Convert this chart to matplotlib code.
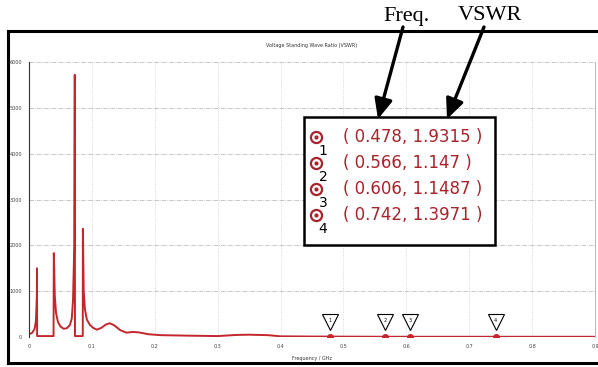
import matplotlib
matplotlib.use("Agg")
from matplotlib import pyplot as plt
from matplotlib.lines import Line2D
from matplotlib.patches import Rectangle, FancyArrowPatch
from matplotlib.transforms import offset_copy

# VSWR sweep (frequency in GHz)
freq = [0.000, 0.005, 0.009, 0.011, 0.0125, 0.0127, 0.0129, 0.039, 0.0395, 0.041,
        0.043, 0.046, 0.050, 0.055, 0.060, 0.065, 0.068, 0.070, 0.072, 0.0728,
        0.0731, 0.0855, 0.0857, 0.087, 0.089, 0.092, 0.097, 0.102, 0.108, 0.115,
        0.122, 0.128, 0.135, 0.145, 0.155, 0.165, 0.175, 0.19, 0.21, 0.25,
        0.30, 0.33, 0.35, 0.38, 0.40, 0.45, 0.50, 0.55, 0.60, 0.65,
        0.70, 0.75, 0.80, 0.85, 0.90]
vswr = [60, 90, 180, 350, 900, 1500, 20, 20, 1830, 900,
        520, 330, 230, 180, 190, 260, 400, 800, 2000, 5720,
        20, 20, 2360, 1000, 600, 380, 260, 200, 160, 200,
        270, 300, 260, 150, 95, 110, 100, 60, 40, 30,
        20, 45, 50, 40, 15, 10, 8, 6, 5, 5,
        5, 5, 5, 5, 5]

# marker readout
mk_freq = [0.478, 0.566, 0.606, 0.742]
mk_vswr = [1.9315, 1.147, 1.1487, 1.3971]
mk_ids = ["1", "2", "3", "4"]

x_ticks = [0, 0.1, 0.2, 0.3, 0.4, 0.5, 0.6, 0.7, 0.8, 0.9]
x_labels = ["0", "0.1", "0.2", "0.3", "0.4", "0.5", "0.6", "0.7", "0.8", "0.9"]
y_ticks = [0, 1000, 2000, 3000, 4000, 5000, 6000]

W, H = 598, 367
red = "#c3262d"
dark_red = "#a8232b"


def px(x, y):
    return x / W, 1 - y / H


fig = plt.figure(figsize=(W / 100, H / 100), dpi=100)
ax = fig.add_axes([29 / W, 30 / H, (595 - 29) / W, (337 - 62) / H])

ax.plot(freq, vswr, color=red, lw=1.4)
ax.set_xlim(0, 0.9)
ax.set_ylim(0, 6000)
ax.set_xticks(x_ticks)
ax.set_xticklabels(x_labels)
ax.set_yticks(y_ticks)
ax.tick_params(length=0, labelsize=3.5, colors="#444444", pad=5)
ax.grid(axis="x", color="#cccccc", ls=":", lw=0.6)
ax.grid(axis="y", color="#b0b0b0", ls="-.", lw=0.5)
for side in ["top", "bottom"]:
    ax.spines[side].set_visible(False)
ax.spines["left"].set_color("#333333")
ax.spines["left"].set_linewidth(0.8)
ax.spines["right"].set_color("#aaaaaa")
ax.spines["right"].set_linewidth(0.6)
ax.set_title("Voltage Standing Wave Ratio (VSWR)", fontsize=3.5, pad=11, color="#333333")
ax.set_xlabel("Frequency / GHz", fontsize=3.5, labelpad=5, color="#333333")

# markers on the trace, with numbered flags above them
ax.plot(mk_freq, mk_vswr, "o", color=red, ms=4, zorder=4)
flag_tr = offset_copy(ax.transData, fig=fig, x=0, y=11, units="points")
for f, v, i in zip(mk_freq, mk_vswr, mk_ids):
    ax.plot(f, v, marker="v", ms=11, mfc="white", mec="black", mew=0.8,
            transform=flag_tr, zorder=5)
    ax.text(f, v, i, transform=offset_copy(ax.transData, fig=fig, x=0, y=12, units="points"),
            fontsize=3.5, ha="center", va="center", zorder=6)

# outer frame
frame = dict(color="black", lw=2.2, transform=fig.transFigure)
fig.add_artist(Line2D([px(8, 31)[0], 1], [px(8, 31)[1]] * 2, **frame))
fig.add_artist(Line2D([px(8, 31)[0]] * 2, [px(8, 31)[1], px(8, 363)[1]], **frame))
fig.add_artist(Line2D([px(8, 363)[0], 1], [px(8, 363)[1]] * 2, **frame))

# readout box
bx0, by0 = px(304, 245)
bx1, by1 = px(495, 117)
fig.add_artist(Rectangle((bx0, by0), bx1 - bx0, by1 - by0, transform=fig.transFigure,
                         fill=True, facecolor="white", edgecolor="black", lw=1.8, zorder=10))
for k, (f, v, i) in enumerate(zip(mk_freq, mk_vswr, mk_ids)):
    row_y = 137 + k * 26
    cx, cy = px(316, row_y)
    fig.add_artist(Line2D([cx], [cy], marker="o", ms=8, mfc="none", mec=dark_red, mew=1.6,
                          transform=fig.transFigure, zorder=11))
    fig.add_artist(Line2D([cx], [cy], marker="o", ms=2, color=dark_red,
                          transform=fig.transFigure, zorder=11))
    fig.text(*px(323, row_y + 14), i, fontsize=10, ha="center", va="center", zorder=11)
    fig.text(*px(343, row_y), f"( {f}, {v} )", fontsize=12, color=dark_red,
             ha="left", va="center", zorder=11)

# column callouts
fig.text(*px(406, 16), "Freq.", family="Liberation Serif", fontsize=16, ha="center", va="center")
fig.text(*px(490, 16), "VSWR", family="Liberation Serif", fontsize=16, ha="center", va="center")
arrow = dict(arrowstyle="-|>,head_length=1.0,head_width=0.45", color="black", lw=2.4,
             mutation_scale=12, shrinkA=0, shrinkB=0, transform=fig.transFigure, zorder=12)
fig.add_artist(FancyArrowPatch(px(403, 27), px(378, 119), **arrow))
fig.add_artist(FancyArrowPatch(px(484, 27), px(447, 119), **arrow))

fig.savefig("out.png", dpi=100)
